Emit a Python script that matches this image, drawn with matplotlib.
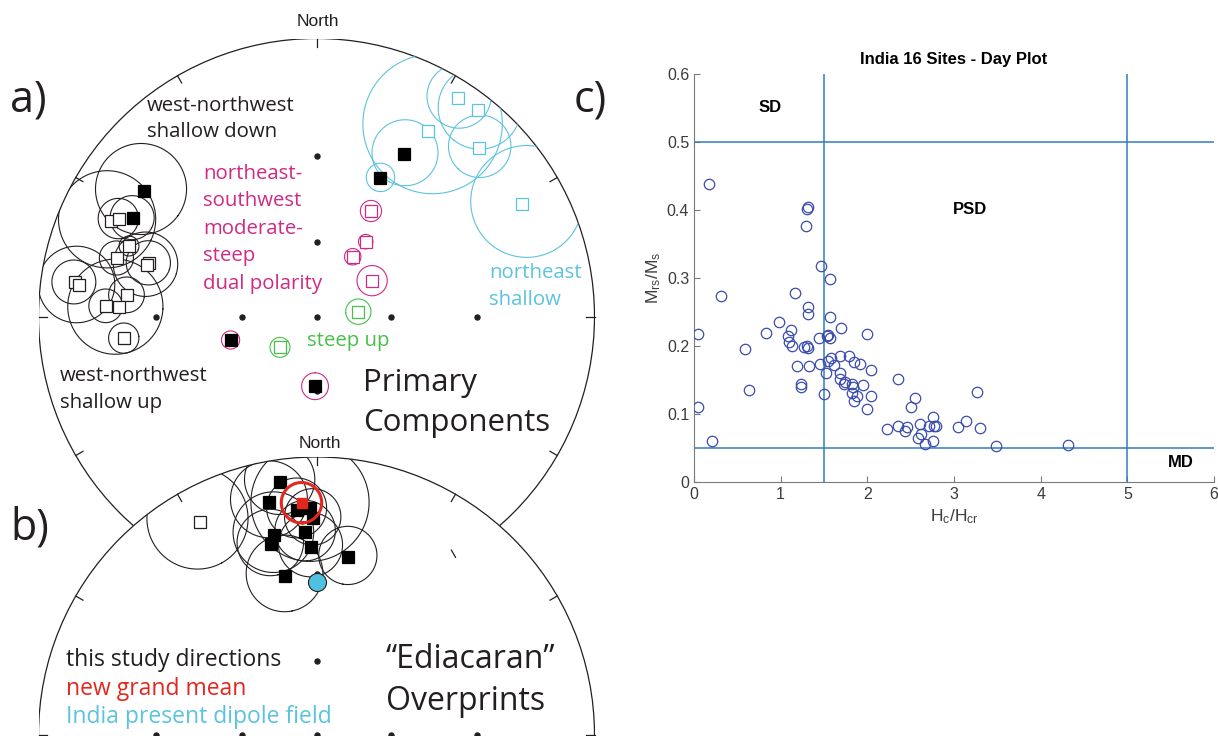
import numpy as np
import matplotlib.pyplot as plt
from matplotlib.patches import Circle

# ---- a) primary components : dec, inc, a95 (deg) ----
# west-northwest shallow (black)
wnw_dec = [306.0, 298.2, 294.9, 296.3, 290.6, 286.3, 287.7, 287.0, 278.1, 277.6, 276.5, 272.9, 272.8, 263.6]
wnw_inc = [15.0, 16.3, -11.6, -13.2, -18.5, -16.4, -25.4, -25.0, -7.4, -8.5, -21.1, -15.7, -19.2, -20.3]
wnw_a95 = [11.7, 5.8, 11.9, 5.1, 2.7, 4.5, 6.5, 9.4, 5.1, 9.0, 5.0, 4.4, 12.9, 4.2]

# northeast shallow (cyan)
ne_dec = [28.4, 24.7, 31.1, 32.9, 38.0, 43.8, 61.3]
ne_inc = [22.9, 32.4, -14.2, -3.7, -3.4, -9.8, -9.8]
ne_a95 = [9.4, 4.5, 17.5, 7.0, 9.0, 7.5, 13.3]

# northeast-southwest moderate-steep dual polarity (magenta)
dp_dec = [27.3, 33.3, 31.2, 57.2, 254.7, 181.2]
dp_inc = [-43.8, -54.3, -61.8, -63.3, 54.5, 61.9]
dp_a95 = [3.7, 2.7, 3.2, 5.9, 3.4, 5.2]

# steep up (green)
up_dec = [83.4, 229.8]
up_inc = [-72.8, -70.5]
up_a95 = [5.1, 4.0]

# ---- b) "Ediacaran" overprints ----
ov_dec = [351.8, 348.6, 355.0, 358.4, 359.0, 348.0, 346.5, 356.8, 358.2, 9.9, 348.8, 331.2]
ov_inc = [4.7, 8.9, 11.7, 11.6, 14.1, 17.3, 19.6, 17.7, 21.7, 23.9, 29.4, -7.8]
ov_a95 = [7.8, 9.1, 7.4, 14.4, 7.2, 10.7, 9.1, 8.1, 9.0, 8.4, 11.7, 11.7]
mean_dec, mean_inc, mean_a95 = 356.3, 10.3, 4.9
gad_dec, gad_inc = 0.0, 32.3

# ---- c) Day plot ----
hc_hcr = [0.17, 0.31, 0.05, 0.05, 0.21, 0.59, 0.63, 0.83, 0.98, 1.12, 1.09, 1.10, 1.13, 1.16,
          1.19, 1.23, 1.24, 1.27, 1.30, 1.31, 1.29, 1.30, 1.32, 1.32, 1.32, 1.33, 1.45, 1.44,
          1.46, 1.50, 1.52, 1.53, 1.55, 1.57, 1.57, 1.57, 1.55, 1.58, 1.62, 1.70, 1.68, 1.69,
          1.68, 1.73, 1.74, 1.79, 1.82, 1.82, 1.85, 1.83, 1.85, 1.88, 1.91, 1.95, 2.00, 2.00,
          2.04, 2.04, 2.23, 2.35, 2.35, 2.44, 2.46, 2.50, 2.55, 2.59, 2.61, 2.62, 2.67, 2.71,
          2.76, 2.76, 2.77, 2.79, 3.05, 3.14, 3.26, 3.30, 3.48, 4.32]
mrs_ms = [0.438, 0.274, 0.218, 0.110, 0.061, 0.195, 0.135, 0.219, 0.236, 0.223, 0.214, 0.206,
          0.200, 0.278, 0.171, 0.144, 0.140, 0.198, 0.200, 0.197, 0.377, 0.401, 0.405, 0.257,
          0.247, 0.171, 0.173, 0.212, 0.317, 0.129, 0.161, 0.214, 0.216, 0.212, 0.298, 0.243,
          0.178, 0.183, 0.172, 0.226, 0.186, 0.160, 0.152, 0.144, 0.147, 0.186, 0.144, 0.131,
          0.177, 0.140, 0.119, 0.127, 0.173, 0.142, 0.217, 0.107, 0.165, 0.126, 0.078, 0.151,
          0.082, 0.075, 0.081, 0.111, 0.124, 0.065, 0.086, 0.070, 0.056, 0.082, 0.095, 0.061,
          0.083, 0.083, 0.081, 0.089, 0.133, 0.079, 0.053, 0.055]

W, H = 1218, 736
R = 278.0
BLACK = '#231f20'
CYAN = '#5cc3df'
MAGENTA = '#cf2a84'
GREEN = '#48c048'
RED = '#e3271c'
SANS = ['Open Sans', 'DejaVu Sans']


def px(x, y):
    return x / W, 1 - y / H


def stereo(dec, inc):
    dec = np.radians(np.asarray(dec, float))
    inc = np.radians(np.abs(np.asarray(inc, float)))
    r = np.tan((np.pi / 2 - inc) / 2)
    return r * np.sin(dec), r * np.cos(dec)


def small_circle(dec, inc, a95, n=240):
    d, i, a = np.radians(dec), np.radians(abs(inc)), np.radians(a95)
    v = np.array([np.cos(i) * np.cos(d), np.cos(i) * np.sin(d), np.sin(i)])
    u = np.array([-np.sin(i) * np.cos(d), -np.sin(i) * np.sin(d), np.cos(i)])
    w = np.array([-np.sin(d), np.cos(d), 0.0])
    t = np.linspace(0, 2 * np.pi, n)
    p = np.cos(a) * v[:, None] + np.sin(a) * (np.cos(t) * u[:, None] + np.sin(t) * w[:, None])
    th = np.arccos(np.clip(p[2], -1, 0.999999))
    r = np.minimum(np.tan(np.minimum(th, 3.0) / 2), 5)
    az = np.arctan2(p[1], p[0])
    return r * np.sin(az), r * np.cos(az)


def make_net(cy):
    ax = fig.add_axes([(316.5 - R) / W, 1 - (cy + R) / H, 2 * R / W, 2 * R / H])
    ax.set_xlim(-1, 1)
    ax.set_ylim(-1, 1)
    ax.axis('off')
    prim = Circle((0, 0), 1, facecolor='white', edgecolor=BLACK, lw=0.9, zorder=1)
    ax.add_patch(prim)
    for az in np.radians(np.arange(0, 360, 30)):
        ax.plot([0.97 * np.sin(az), np.sin(az)], [0.97 * np.cos(az), np.cos(az)],
                color=BLACK, lw=0.9, zorder=1.5, clip_on=False)
    gx, gy = stereo([0, 0, 90, 90, 180, 180, 270, 270, 0], [60, 30, 60, 30, 60, 30, 60, 30, 90])
    ax.plot(gx, gy, 'o', ms=3.6, color=BLACK, zorder=1.5, clip_on=False)
    return ax, prim


def plot_group(ax, prim, decs, incs, a95s, color, ms=8, lw=0.8):
    for d, i, a in zip(decs, incs, a95s):
        cx, cy = small_circle(d, i, a)
        ln, = ax.plot(cx, cy, color=color, lw=lw, zorder=2)
        ln.set_clip_path(prim)
    x, y = stereo(decs, incs)
    down = np.asarray(incs) >= 0
    ax.plot(x[~down], y[~down], 's', ms=ms, mfc='white', mec=color, mew=0.9, zorder=4)
    ax.plot(x[down], y[down], 's', ms=ms, mfc='black', mec='black', mew=0.9, zorder=4)


fig = plt.figure(figsize=(W / 100, H / 100), dpi=100)

# net a
ax_a, prim_a = make_net(316.5)
plot_group(ax_a, prim_a, wnw_dec, wnw_inc, wnw_a95, BLACK)
plot_group(ax_a, prim_a, ne_dec, ne_inc, ne_a95, CYAN)
plot_group(ax_a, prim_a, dp_dec, dp_inc, dp_a95, MAGENTA)
plot_group(ax_a, prim_a, up_dec, up_inc, up_a95, GREEN)

# net b (drawn over the lower part of net a)
ax_b, prim_b = make_net(735.0)
plot_group(ax_b, prim_b, ov_dec, ov_inc, ov_a95, BLACK)
mx, my = small_circle(mean_dec, mean_inc, mean_a95)
ax_b.plot(mx, my, color=RED, lw=2.2, zorder=5)
ex, ey = stereo([mean_dec], [mean_inc])
ax_b.plot(ex, ey, 's', ms=7, mfc=RED, mec=RED, zorder=6)
gx, gy = stereo([gad_dec], [gad_inc])
ax_b.plot(gx, gy, 'o', ms=13, mfc='#4fc0df', mec=BLACK, mew=0.8, zorder=6)
# one tick of net a that shows through net b
off = (735.0 - 316.5) / R
az = np.radians(150)
ax_b.plot([0.97 * np.sin(az), np.sin(az)], [off + 0.97 * np.cos(az), off + np.cos(az)],
          color=BLACK, lw=0.9, zorder=3, clip_on=False)


# texts of the stereonets
def label(x, y, s, size=14.7, color=BLACK, family=SANS, ha='left'):
    fig.text(*px(x, y), s, fontsize=size, color=color, family=family, ha=ha, va='center',
             zorder=10)


ARIAL = ['Liberation Sans', 'DejaVu Sans']
label(318, 22, 'North', 12.5, family=ARIAL, ha='center')
label(320, 443, 'North', 12.5, family=ARIAL, ha='center')
label(10, 100, 'a)', 31)
label(10, 528, 'b)', 31)
label(574, 100, 'c)', 31)
label(147, 106, 'west-northwest')
label(147, 132, 'shallow down')
for k, s in enumerate(['northeast-', 'southwest', 'moderate-', 'steep', 'dual polarity']):
    label(203, 174 + 27.4 * k, s, color=MAGENTA)
label(489, 273, 'northeast', color=CYAN)
label(489, 300, 'shallow', color=CYAN)
label(307, 341, 'steep up', color=GREEN)
label(60, 376, 'west-northwest')
label(60, 403, 'shallow up')
label(363, 383, 'Primary', 22.5)
label(363, 423, 'Components', 22.5)
label(66, 660, 'this study directions', 16.5)
label(66, 689, 'new grand mean', 16.5, color=RED)
label(66, 717, 'India present dipole field', 16.5, color=CYAN)
label(386, 660, '\u201cEdiacaran\u201d', 23)
label(386, 701, 'Overprints', 23)

# c) Day plot
plt.rcParams['font.family'] = ARIAL
ax_c = fig.add_axes([694 / W, 1 - 482 / H, 520 / W, 408 / H])
ax_c.plot(hc_hcr, mrs_ms, 'o', ms=7.5, mfc='none', mec='#3b4cad', mew=0.9, zorder=3)
for xv in [1.5, 5]:
    ax_c.axvline(xv, color='#2f7fbf', lw=1.1)
for yv in [0.5, 0.05]:
    ax_c.axhline(yv, color='#2f7fbf', lw=1.1)
ax_c.set_xlim(0, 6)
ax_c.set_ylim(0, 0.6)
ax_c.set_xticks(range(7))
ax_c.set_yticks(np.arange(0, 0.61, 0.1))
ax_c.set_yticklabels(['0', '0.1', '0.2', '0.3', '0.4', '0.5', '0.6'])
for sp in ['top', 'right']:
    ax_c.spines[sp].set_visible(False)
for sp in ['left', 'bottom']:
    ax_c.spines[sp].set_color('#7a7a7a')
ax_c.tick_params(direction='in', length=4, colors='#7a7a7a', labelcolor='#3c3c3c', labelsize=11.5)
ax_c.set_title('India 16 Sites - Day Plot', fontsize=12, fontweight='bold', pad=7)
ax_c.set_xlabel(r'$\mathregular{H_c/H_{cr}}$', fontsize=12.5, color='#3c3c3c', labelpad=4)
ax_c.set_ylabel(r'$\mathregular{M_{rs}/M_s}$', fontsize=12.5, color='#3c3c3c', labelpad=3)
ax_c.text(0.88, 0.55, 'SD', fontsize=12, fontweight='bold', ha='center', va='center')
ax_c.text(3.18, 0.40, 'PSD', fontsize=12, fontweight='bold', ha='center', va='center')
ax_c.text(5.62, 0.029, 'MD', fontsize=12, fontweight='bold', ha='center', va='center')

fig.savefig('out.png', dpi=100)
